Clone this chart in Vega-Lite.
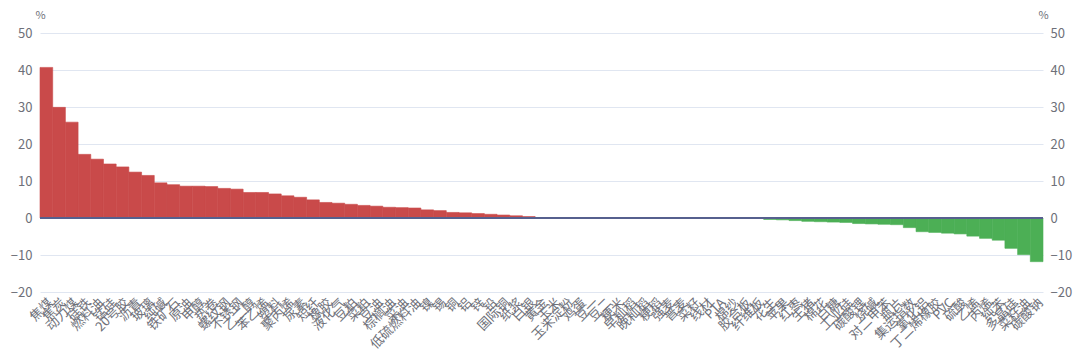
{
  "$schema": "https://vega.github.io/schema/vega-lite/v6.json",
  "width": 1003,
  "height": 259,
  "autosize": "none",
  "padding": {"left": 40, "top": 33, "right": 37, "bottom": 59},
  "background": "white",
  "config": {
    "view": {"stroke": null},
    "font": "Noto Sans CJK SC"
  },
  "data": {
    "values": [
      {"order": 1, "name": "焦煤", "value": 40.7},
      {"order": 2, "name": "焦炭", "value": 29.9},
      {"order": 3, "name": "动力煤", "value": 25.9},
      {"order": 4, "name": "硅铁", "value": 17.2},
      {"order": 5, "name": "燃料油", "value": 15.9},
      {"order": 6, "name": "锰硅", "value": 14.6},
      {"order": 7, "name": "20号胶", "value": 13.8},
      {"order": 8, "name": "沥青", "value": 12.4},
      {"order": 9, "name": "玻璃", "value": 11.5},
      {"order": 10, "name": "纯碱", "value": 9.5},
      {"order": 11, "name": "铁矿石", "value": 9.0},
      {"order": 12, "name": "原油", "value": 8.6},
      {"order": 13, "name": "甲醇", "value": 8.6},
      {"order": 14, "name": "热卷", "value": 8.5},
      {"order": 15, "name": "螺纹钢", "value": 8.0},
      {"order": 16, "name": "不锈钢", "value": 7.8},
      {"order": 17, "name": "乙二醇", "value": 6.9},
      {"order": 18, "name": "苯乙烯", "value": 6.9},
      {"order": 19, "name": "塑料", "value": 6.5},
      {"order": 20, "name": "聚丙烯", "value": 6.0},
      {"order": 21, "name": "尿素", "value": 5.6},
      {"order": 22, "name": "短纤", "value": 4.9},
      {"order": 23, "name": "橡胶", "value": 4.2},
      {"order": 24, "name": "液化气", "value": 4.0},
      {"order": 25, "name": "豆粕", "value": 3.7},
      {"order": 26, "name": "菜粕", "value": 3.4},
      {"order": 27, "name": "豆油", "value": 3.2},
      {"order": 28, "name": "棕榈油", "value": 2.9},
      {"order": 29, "name": "菜油", "value": 2.8},
      {"order": 30, "name": "低硫燃料油", "value": 2.7},
      {"order": 31, "name": "镍", "value": 2.2},
      {"order": 32, "name": "锡", "value": 2.0},
      {"order": 33, "name": "铜", "value": 1.5},
      {"order": 34, "name": "铝", "value": 1.4},
      {"order": 35, "name": "锌", "value": 1.2},
      {"order": 36, "name": "铅", "value": 1.0},
      {"order": 37, "name": "国际铜", "value": 0.8},
      {"order": 38, "name": "纸浆", "value": 0.6},
      {"order": 39, "name": "白银", "value": 0.4},
      {"order": 40, "name": "黄金", "value": 0},
      {"order": 41, "name": "玉米", "value": 0},
      {"order": 42, "name": "玉米淀粉", "value": 0},
      {"order": 43, "name": "鸡蛋", "value": 0},
      {"order": 44, "name": "豆一", "value": 0},
      {"order": 45, "name": "豆二", "value": 0},
      {"order": 46, "name": "粳米", "value": 0},
      {"order": 47, "name": "早籼稻", "value": 0},
      {"order": 48, "name": "晚籼稻", "value": 0},
      {"order": 49, "name": "粳稻", "value": 0},
      {"order": 50, "name": "强麦", "value": 0},
      {"order": 51, "name": "普麦", "value": 0},
      {"order": 52, "name": "菜籽", "value": 0},
      {"order": 53, "name": "线材", "value": 0},
      {"order": 54, "name": "PTA", "value": 0},
      {"order": 55, "name": "棉纱", "value": 0},
      {"order": 56, "name": "胶合板", "value": 0},
      {"order": 57, "name": "纤维板", "value": 0},
      {"order": 58, "name": "花生", "value": -0.4},
      {"order": 59, "name": "苹果", "value": -0.5},
      {"order": 60, "name": "红枣", "value": -0.7},
      {"order": 61, "name": "生猪", "value": -0.9},
      {"order": 62, "name": "棉花", "value": -1.0},
      {"order": 63, "name": "白糖", "value": -1.1},
      {"order": 64, "name": "工业硅", "value": -1.2},
      {"order": 65, "name": "碳酸锂", "value": -1.5},
      {"order": 66, "name": "烧碱", "value": -1.6},
      {"order": 67, "name": "对二甲苯", "value": -1.7},
      {"order": 68, "name": "瓶片", "value": -1.8},
      {"order": 69, "name": "集运指数", "value": -2.6},
      {"order": 70, "name": "氧化铝", "value": -3.7},
      {"order": 71, "name": "丁二烯橡胶", "value": -3.9},
      {"order": 72, "name": "PVC", "value": -4.1},
      {"order": 73, "name": "硫酸", "value": -4.3},
      {"order": 74, "name": "乙烯", "value": -4.9},
      {"order": 75, "name": "丙烯", "value": -5.5},
      {"order": 76, "name": "纯苯", "value": -6.0},
      {"order": 77, "name": "多晶硅", "value": -8.2},
      {"order": 78, "name": "菜籽油", "value": -9.9},
      {"order": 79, "name": "碳酸钠", "value": -11.8}
    ]
  },
  "encoding": {
    "x": {
      "field": "name",
      "type": "ordinal",
      "sort": {"field": "order", "order": "ascending"},
      "scale": {"paddingInner": 0, "paddingOuter": 0},
      "axis": {
        "title": null,
        "labelAngle": -45,
        "labelOverlap": false,
        "labelFontSize": 13,
        "labelColor": "#6e7079",
        "labelPadding": 4,
        "ticks": false,
        "domain": false,
        "grid": false
      }
    }
  },
  "layer": [
    {
      "mark": {"type": "bar", "strokeWidth": 0.6},
      "encoding": {
        "y": {
          "field": "value",
          "type": "quantitative",
          "scale": {"domain": [-20, 50], "nice": false, "zero": false},
          "axis": {
            "orient": "left",
            "values": [-20, -10, 0, 10, 20, 30, 40, 50],
            "title": "%",
            "titleAngle": 0,
            "titleX": 0,
            "titleY": -18,
            "titleAlign": "center",
            "titleBaseline": "middle",
            "titleFontSize": 11,
            "titleFontWeight": "normal",
            "titleColor": "#6e7079",
            "labelFontSize": 13,
            "labelColor": "#6e7079",
            "labelPadding": 8,
            "ticks": false,
            "domain": false,
            "grid": true,
            "gridColor": "#e0e6f1",
            "gridWidth": 1
          }
        },
        "color": {
          "condition": {"test": "datum.value >= 0", "value": "#c94a4a"},
          "value": "#4caf55"
        },
        "stroke": {
          "condition": {"test": "datum.value >= 0", "value": "#c94a4a"},
          "value": "#4caf55"
        }
      }
    },
    {
      "mark": {"type": "rule", "color": "#56608e", "strokeWidth": 2},
      "data": {"values": [{"zero": 0}]},
      "encoding": {
        "x": null,
        "y": {
          "field": "zero",
          "type": "quantitative",
          "scale": {"domain": [-20, 50], "nice": false, "zero": false},
          "axis": {
            "orient": "right",
            "values": [-20, -10, 0, 10, 20, 30, 40, 50],
            "title": "%",
            "titleAngle": 0,
            "titleX": 0,
            "titleY": -18,
            "titleAlign": "center",
            "titleBaseline": "middle",
            "titleFontSize": 11,
            "titleFontWeight": "normal",
            "titleColor": "#6e7079",
            "labelFontSize": 13,
            "labelColor": "#6e7079",
            "labelPadding": 7,
            "ticks": false,
            "domain": false,
            "grid": false
          }
        }
      }
    }
  ],
  "resolve": {"scale": {"y": "independent"}}
}
